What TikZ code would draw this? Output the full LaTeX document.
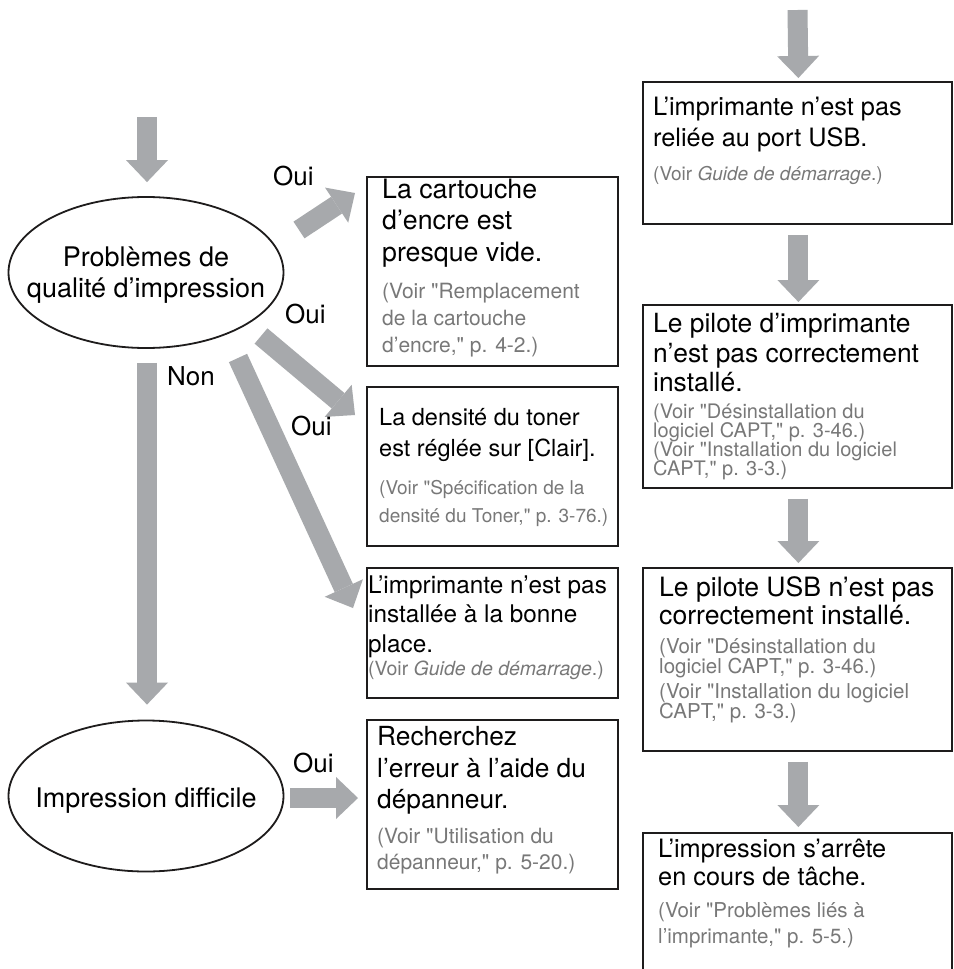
\documentclass[tikz,border=0pt]{standalone}
\usepackage{fontspec}
\setmainfont{TeX Gyre Heros}[Ligatures=TeXOff]
\usetikzlibrary{arrows.meta,shapes.geometric,calc}
\definecolor{arrowgray}{RGB}{167,169,172}
\definecolor{refgray}{RGB}{120,120,120}
\definecolor{linecol}{RGB}{30,28,28}
\begin{document}
\begin{tikzpicture}[x=1pt,y=-1pt,
  fatarrow/.style={draw=arrowgray, line width=20pt, -{Triangle[width=42pt,length=22pt,line width=0pt]}},
  box/.style={draw=linecol, line width=1.8pt, rectangle, inner sep=0pt, anchor=north west},
  oval/.style={draw=linecol, line width=1.8pt, ellipse, inner sep=0pt, minimum width=275pt, minimum height=151pt},
  maintext/.style={anchor=base west, inner sep=0pt, font={\fontsize{#1}{#1}\selectfont}},
  graytext/.style={anchor=base west, inner sep=0pt, text=refgray, font={\fontsize{#1}{#1}\selectfont}},
  ovaltext/.style={anchor=base, inner sep=0pt, font={\fontsize{27}{27}\selectfont}},
  lbl/.style={anchor=base west, inner sep=0pt, font={\fontsize{26}{26}\selectfont}}]

\fill[white] (0,0) rectangle (953,969);
\useasboundingbox (0,0) rectangle (953,969);

% ellipses
\node[oval] (e1) at (146,272.5) {};
\node[oval] (e2) at (146,796) {};
\node[ovaltext] (e1a) at (146,266) {Problèmes de};
\node[ovaltext] (e1b) at (146,297) {qualité d’impression};
\node[ovaltext] (e2a) at (146,807) {Impression difficile};

% left boxes
\node[box, minimum width=251pt, minimum height=189pt] (b1) at (366,176) {};
\node[box, minimum width=251pt, minimum height=159pt] (b2) at (366,386) {};
\node[box, minimum width=251pt, minimum height=130pt] (b3) at (366,567) {};
\node[box, minimum width=251pt, minimum height=169pt] (b5) at (366,719) {};

% right boxes
\node[box, minimum width=309pt, minimum height=142pt] (r1) at (642,81) {};
\node[box, minimum width=309pt, minimum height=183pt] (r2) at (642,304) {};
\node[box, minimum width=309pt, minimum height=183pt] (r3) at (642,567) {};
\node[box, minimum width=309pt, minimum height=160pt] (r4) at (642,832) {};

% arrow end points
\coordinate (top0) at (147,117);
\coordinate (a1s) at (299,230);
\coordinate (a1e) at (355,193);
\coordinate (a2s) at (261,336);
\coordinate (a2e) at (355,415);
\coordinate (a3s) at (238,358);
\coordinate (a3e) at (353,608);
\coordinate (a4s) at (290,798);
\coordinate (a4e) at (358,798);
\coordinate (rtop) at (797.5,10);

% arrows
\draw[fatarrow] (top0) -- ($(e1.north)+(1,-14)$);
\draw[fatarrow] (a1s) -- (a1e);
\draw[fatarrow] (a2s) -- (a2e);
\draw[fatarrow] (a3s) -- (a3e);
\draw[fatarrow] ($(e1.south)+(1,14)$) -- ($(e2.north)+(1,-15)$);
\draw[fatarrow] (a4s) -- (a4e);
\draw[fatarrow] (rtop) -- ($(r1.north)+(1,-3)$);
\draw[fatarrow] ($(r1.south)+(1,10)$) -- ($(r2.north)+(1,-2)$);
\draw[fatarrow] ($(r2.south)+(1,10)$) -- ($(r3.north)+(1,-4)$);
\draw[fatarrow] ($(r3.south)+(1,10)$) -- ($(r4.north)+(1,-5)$);

% labels
\node[lbl] (oui1) at (273,185) {Oui};
\node[lbl] (oui2) at (285,323) {Oui};
\node[lbl] (oui3) at (291,435) {Oui};
\node[lbl] (oui4) at (293,772) {Oui};
\node[lbl] (non) at (167,385) {Non};

% box 1
\node[maintext=26.7] (b1a) at (382,198) {La cartouche};
\node[maintext=26.7] (b1b) at (382,229.5) {d’encre est};
\node[maintext=26.7] (b1c) at (382,261) {presque vide.};
\node[graytext=21] (b1d) at (382,298) {(Voir "Remplacement};
\node[graytext=21] (b1e) at (382,325) {de la cartouche};
\node[graytext=21] (b1f) at (382,352) {d’encre," p. 4-2.)};

% box 2
\node[maintext=23.5] (b2a) at (379,425) {La densité du toner};
\node[maintext=23.5] (b2b) at (379,456) {est réglée sur [Clair].};
\node[graytext=19] (b2c) at (379,494) {(Voir "Spécification de la};
\node[graytext=19] (b2d) at (379,522) {densité du Toner," p. 3-76.)};

% box 3
\node[maintext=24.3] (b3a) at (368,593) {L’imprimante n’est pas};
\node[maintext=24.3] (b3b) at (368,622.5) {installée à la bonne};
\node[maintext=24.3] (b3c) at (368,652) {place.};
\node[graytext=19.5] (b3d) at (368,675) {(Voir \textit{Guide de démarrage}.)};

% box 5
\node[maintext=26.3] (b5a) at (377,745) {Recherchez};
\node[maintext=26.3] (b5b) at (377,777) {l’erreur à l’aide du};
\node[maintext=26.3] (b5c) at (377,808) {dépanneur.};
\node[graytext=21] (b5d) at (377,843) {(Voir "Utilisation du};
\node[graytext=21] (b5e) at (377,869) {dépanneur," p. 5-20.)};

% right box 1
\node[maintext=25.3] (r1a) at (653,115) {L’imprimante n’est pas};
\node[maintext=25.3] (r1b) at (653,146.5) {reliée au port USB.};
\node[graytext=19] (r1c) at (653,180) {(Voir \textit{Guide de démarrage}.)};

% right box 2
\node[maintext=26.4] (r2a) at (653,332.5) {Le pilote d’imprimante};
\node[maintext=26.4] (r2b) at (653,362) {n’est pas correctement};
\node[maintext=26.4] (r2c) at (653,391.5) {installé.};
\node[graytext=20] (r2d) at (653,418) {(Voir "Désinstallation du};
\node[graytext=20] (r2e) at (653,437) {logiciel CAPT," p. 3-46.)};
\node[graytext=20] (r2f) at (653,456) {(Voir "Installation du logiciel};
\node[graytext=20] (r2g) at (653,475) {CAPT," p. 3-3.)};

% right box 3
\node[maintext=26.6] (r3a) at (659,596) {Le pilote USB n’est pas};
\node[maintext=26.6] (r3b) at (659,624) {correctement installé.};
\node[graytext=20.5] (r3c) at (659,653) {(Voir "Désinstallation du};
\node[graytext=20.5] (r3d) at (659,673) {logiciel CAPT," p. 3-46.)};
\node[graytext=20.5] (r3e) at (659,698) {(Voir "Installation du logiciel};
\node[graytext=20.5] (r3f) at (659,718) {CAPT," p. 3-3.)};

% right box 4
\node[maintext=25.3] (r4a) at (658,857) {L’impression s’arrête};
\node[maintext=25.3] (r4b) at (658,885) {en cours de tâche.};
\node[graytext=20.5] (r4c) at (658,917) {(Voir "Problèmes liés à};
\node[graytext=20.5] (r4d) at (658,943) {l’imprimante," p. 5-5.)};
\end{tikzpicture}
\end{document}
